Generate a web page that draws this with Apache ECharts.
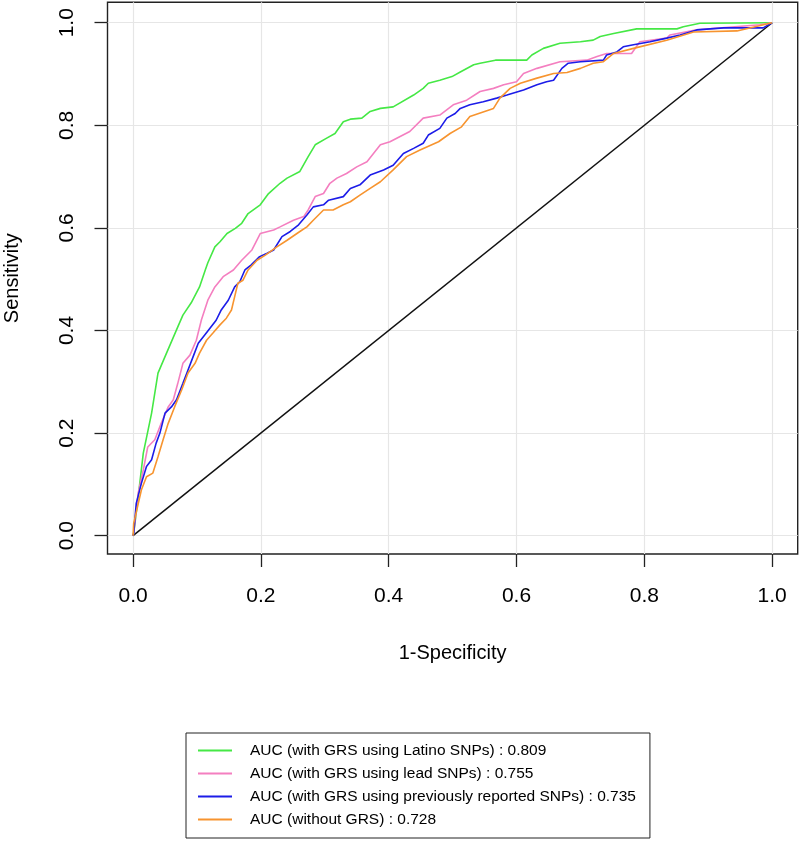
<!DOCTYPE html>
<html lang="en">
  <head>
    <meta charset="utf-8">
    <title>ROC curves</title>
    <script src="https://cdn.jsdelivr.net/npm/echarts@6/dist/echarts.min.js"></script>
    <style>
      html, body { margin: 0; padding: 0; background: #fff; }
      #chart { width: 800px; height: 850px; }
    </style>
  </head>
  <body>
    <div id="chart"></div>

    <script>
      // tick positions on both axes
      var ticks = [0, 0.2, 0.4, 0.6, 0.8, 1.0];

      var legendNames = [
        "AUC (with GRS using Latino SNPs) : 0.809",
        "AUC (with GRS using lead SNPs) : 0.755",
        "AUC (with GRS using previously reported SNPs) : 0.735",
        "AUC (without GRS) : 0.728"
      ];

      // 1-specificity / sensitivity
      var latinoFpr = [0, 0.001, 0.008, 0.016, 0.029, 0.039, 0.050, 0.070, 0.078, 0.091, 0.104, 0.113, 0.117, 0.128, 0.136, 0.147, 0.160, 0.170, 0.180, 0.199, 0.212, 0.230, 0.241, 0.261, 0.274, 0.285, 0.303, 0.316, 0.329, 0.340, 0.358, 0.371, 0.387, 0.407, 0.439, 0.454, 0.462, 0.480, 0.499, 0.512, 0.533, 0.543, 0.567, 0.616, 0.624, 0.642, 0.668, 0.700, 0.720, 0.731, 0.752, 0.788, 0.851, 0.861, 0.887, 1.0];
      var latinoTpr = [0, 0.005, 0.075, 0.161, 0.239, 0.317, 0.349, 0.407, 0.430, 0.454, 0.485, 0.518, 0.532, 0.563, 0.573, 0.589, 0.599, 0.609, 0.628, 0.645, 0.667, 0.687, 0.697, 0.710, 0.739, 0.762, 0.775, 0.784, 0.807, 0.812, 0.814, 0.827, 0.833, 0.836, 0.859, 0.872, 0.882, 0.888, 0.895, 0.904, 0.918, 0.921, 0.927, 0.927, 0.937, 0.950, 0.960, 0.963, 0.966, 0.973, 0.979, 0.988, 0.988, 0.992, 0.999, 1.0];

      var leadFpr = [0, 0.001, 0.008, 0.016, 0.023, 0.034, 0.044, 0.055, 0.063, 0.070, 0.078, 0.089, 0.099, 0.107, 0.117, 0.128, 0.141, 0.157, 0.170, 0.186, 0.199, 0.220, 0.230, 0.251, 0.267, 0.274, 0.285, 0.298, 0.308, 0.319, 0.334, 0.350, 0.366, 0.387, 0.402, 0.433, 0.454, 0.480, 0.501, 0.522, 0.543, 0.564, 0.580, 0.600, 0.611, 0.632, 0.668, 0.710, 0.726, 0.741, 0.780, 0.793, 0.835, 0.840, 0.882, 0.981, 1.0];
      var leadTpr = [0, 0.005, 0.083, 0.128, 0.173, 0.187, 0.219, 0.251, 0.265, 0.297, 0.336, 0.352, 0.381, 0.421, 0.459, 0.485, 0.505, 0.518, 0.537, 0.557, 0.589, 0.596, 0.602, 0.615, 0.622, 0.635, 0.661, 0.667, 0.687, 0.697, 0.706, 0.719, 0.729, 0.762, 0.768, 0.788, 0.814, 0.820, 0.840, 0.849, 0.866, 0.872, 0.879, 0.885, 0.901, 0.911, 0.924, 0.927, 0.934, 0.940, 0.940, 0.963, 0.970, 0.976, 0.986, 0.996, 1.0];

      var reportedFpr = [0, 0.001, 0.005, 0.013, 0.021, 0.029, 0.036, 0.042, 0.050, 0.060, 0.068, 0.078, 0.086, 0.094, 0.102, 0.110, 0.120, 0.130, 0.138, 0.149, 0.159, 0.167, 0.175, 0.185, 0.198, 0.209, 0.220, 0.233, 0.246, 0.259, 0.272, 0.282, 0.298, 0.306, 0.329, 0.340, 0.355, 0.371, 0.392, 0.407, 0.423, 0.439, 0.454, 0.462, 0.480, 0.491, 0.504, 0.512, 0.527, 0.548, 0.569, 0.585, 0.611, 0.632, 0.647, 0.658, 0.671, 0.681, 0.700, 0.736, 0.741, 0.757, 0.767, 0.783, 0.809, 0.835, 0.856, 0.882, 0.924, 0.986, 1.0];
      var reportedTpr = [0, 0.005, 0.063, 0.102, 0.135, 0.148, 0.180, 0.200, 0.239, 0.251, 0.265, 0.297, 0.323, 0.349, 0.375, 0.388, 0.404, 0.420, 0.440, 0.459, 0.485, 0.495, 0.518, 0.528, 0.544, 0.550, 0.557, 0.583, 0.593, 0.606, 0.625, 0.641, 0.645, 0.654, 0.661, 0.677, 0.684, 0.703, 0.713, 0.722, 0.745, 0.755, 0.765, 0.781, 0.794, 0.814, 0.823, 0.833, 0.840, 0.846, 0.853, 0.859, 0.869, 0.879, 0.885, 0.888, 0.911, 0.921, 0.924, 0.927, 0.937, 0.943, 0.953, 0.957, 0.963, 0.970, 0.976, 0.986, 0.990, 0.990, 1.0];

      var noGrsFpr = [0, 0.001, 0.013, 0.021, 0.031, 0.039, 0.047, 0.055, 0.065, 0.076, 0.086, 0.097, 0.104, 0.115, 0.125, 0.136, 0.146, 0.154, 0.159, 0.164, 0.172, 0.180, 0.194, 0.207, 0.225, 0.241, 0.261, 0.272, 0.282, 0.298, 0.313, 0.329, 0.340, 0.355, 0.371, 0.387, 0.407, 0.428, 0.449, 0.478, 0.496, 0.514, 0.527, 0.564, 0.574, 0.590, 0.606, 0.632, 0.658, 0.679, 0.700, 0.720, 0.736, 0.752, 0.783, 0.835, 0.877, 0.945, 1.0];
      var noGrsTpr = [0, 0.024, 0.089, 0.115, 0.122, 0.154, 0.187, 0.219, 0.251, 0.284, 0.317, 0.336, 0.356, 0.381, 0.395, 0.411, 0.424, 0.440, 0.466, 0.492, 0.498, 0.518, 0.537, 0.547, 0.563, 0.576, 0.593, 0.602, 0.615, 0.635, 0.635, 0.645, 0.651, 0.664, 0.677, 0.690, 0.713, 0.739, 0.752, 0.768, 0.784, 0.797, 0.817, 0.833, 0.853, 0.872, 0.882, 0.892, 0.901, 0.903, 0.911, 0.921, 0.924, 0.940, 0.950, 0.966, 0.982, 0.984, 1.0];

      var refFpr = [0, 1];
      var refTpr = [0, 1];

      function pairs(xs, ys){
        var out = [];
        for (var i = 0; i < xs.length; i++){
          out.push([xs[i], ys[i]]);
        }
        return out;
      }

      function curve(name, xs, ys, color){
        return {
          name: name,
          type: "line",
          data: pairs(xs, ys),
          symbol: "none",
          silent: true,
          lineStyle: {color: color, width: 1.6},
          itemStyle: {color: color}
        };
      }

      function axis(name, gap, isY){
        return {
          type: "value",
          min: isY ? -0.0357 : -0.04,
          max: isY ? 1.0398 : 1.04,
          name: name,
          nameLocation: "middle",
          nameGap: gap,
          nameTextStyle: {fontFamily: "Liberation Sans", fontSize: 20, color: "#000"},
          axisLine: {show: false, onZero: false},
          axisTick: {show: true, length: 13, customValues: ticks,
                     lineStyle: {color: "#222", width: 1.3}},
          axisLabel: {customValues: ticks, rotate: isY ? 90 : 0, margin: isY ? 30 : 32,
                      fontFamily: "Liberation Sans", fontSize: 21, color: "#000",
                      formatter: function(v){ return v.toFixed(1); }},
          splitLine: {show: true, lineStyle: {color: "#e6e6e6", width: 1.2}}
        };
      }

      var myChart = echarts.init(document.getElementById("chart"));
      myChart.setOption({
        backgroundColor: "#fff",
        animation: false,
        grid: {left: 107.5, right: 2.3, top: 2.3, bottom: 296,
               containLabel: false, outerBoundsMode: "none",
               show: true, borderColor: "#222", borderWidth: 1.4},
        xAxis: axis("1-Specificity", 89, false),
        yAxis: axis("Sensitivity", 85, true),
        legend: {
          data: legendNames,
          orient: "vertical",
          left: 186,
          top: 733,
          padding: [7, 14, 8, 12],
          itemGap: 2,
          itemWidth: 34,
          itemHeight: 2,
          icon: "rect",
          borderColor: "#222",
          borderWidth: 1,
          selectedMode: false,
          textStyle: {fontFamily: "Liberation Sans", fontSize: 15.5, color: "#000",
                      padding: [0, 0, 0, 13], lineHeight: 21}
        },
        series: [
          {
            name: "reference", type: "line", data: pairs(refFpr, refTpr),
            symbol: "none", silent: true, lineStyle: {color: "#111", width: 1.5}
          },
          curve(legendNames[0], latinoFpr, latinoTpr, "#45e845"),
          curve(legendNames[1], leadFpr, leadTpr, "#f47fc0"),
          curve(legendNames[2], reportedFpr, reportedTpr, "#1c1ce8"),
          curve(legendNames[3], noGrsFpr, noGrsTpr, "#f7942f")
        ]
      });
    </script>
  </body>
</html>
